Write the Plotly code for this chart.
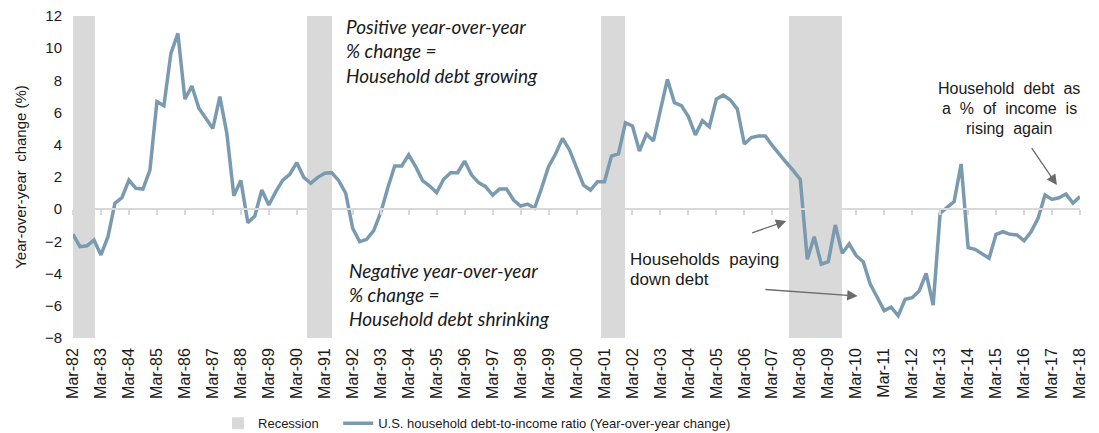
import plotly.graph_objects as go

# Quarterly observations, Mar-82 through Mar-18 (index 0 = Mar-82)
debt_to_income_yoy = [
    -1.56, -2.33, -2.27, -1.91, -2.84, -1.71, 0.37, 0.72, 1.81, 1.30,
    1.25, 2.43, 6.68, 6.43, 9.68, 10.92, 6.84, 7.65, 6.27, 5.69,
    5.02, 6.99, 4.71, 0.84, 1.79, -0.84, -0.42, 1.19, 0.26, 1.09,
    1.81, 2.17, 2.89, 1.98, 1.61, 1.98, 2.23, 2.27, 1.77, 0.99,
    -1.19, -2.02, -1.87, -1.33, -0.22, 1.30, 2.68, 2.68, 3.37, 2.64,
    1.77, 1.44, 1.03, 1.86, 2.27, 2.27, 2.99, 2.12, 1.65, 1.40,
    0.88, 1.25, 1.25, 0.57, 0.20, 0.32, 0.06, 1.30, 2.64, 3.43,
    4.40, 3.68, 2.54, 1.50, 1.19, 1.71, 1.71, 3.30, 3.43, 5.37,
    5.17, 3.61, 4.67, 4.24, 6.16, 8.07, 6.62, 6.43, 5.75, 4.61,
    5.50, 5.12, 6.83, 7.09, 6.78, 6.22, 4.05, 4.45, 4.55, 4.55,
    3.95, 3.40, 2.90, 2.40, 1.85, -3.11, -1.71, -3.42, -3.26, -0.98,
    -2.74, -2.16, -2.89, -3.26, -4.65, -5.47, -6.30, -6.09, -6.62, -5.60,
    -5.50, -5.08, -3.98, -5.95, -0.26, 0.12, 0.47, 2.81, -2.39, -2.49,
    -2.80, -3.05, -1.56, -1.40, -1.56, -1.60, -1.96, -1.40, -0.57, 0.88,
    0.61, 0.71, 0.94, 0.37, 0.78,
]
quarters = list(range(len(debt_to_income_yoy)))

# Recession periods, in quarters since Mar-82
recession_start = [0.0, 33.5, 75.5, 102.4]
recession_end = [3.1, 37.1, 78.9, 109.9]

tick_labels = [
    "Mar-82", "Mar-83", "Mar-84", "Mar-85", "Mar-86", "Mar-87", "Mar-88",
    "Mar-89", "Mar-90", "Mar-91", "Mar-92", "Mar-93", "Mar-94", "Mar-95",
    "Mar-96", "Mar-97", "Mar-98", "Mar-99", "Mar-00", "Mar-01", "Mar-02",
    "Mar-03", "Mar-04", "Mar-05", "Mar-06", "Mar-07", "Mar-08", "Mar-09",
    "Mar-10", "Mar-11", "Mar-12", "Mar-13", "Mar-14", "Mar-15", "Mar-16",
    "Mar-17", "Mar-18",
]
tick_positions = [4 * i for i in range(len(tick_labels))]

Y_MIN, Y_MAX = -8, 12
LINE_COLOR = "#7A9AAF"
BAND_COLOR = "#D9D9D9"
TEXT_COLOR = "#1a1a1a"
FONT = "Liberation Sans, Arial, sans-serif"
ITALIC_FONT = "Lato, Carlito, Calibri, sans-serif"
NBSP = "&nbsp;"

fig = go.Figure()

fig.add_trace(go.Bar(
    x=[(s + e) / 2 for s, e in zip(recession_start, recession_end)],
    y=[Y_MAX - Y_MIN] * len(recession_start),
    base=[Y_MIN] * len(recession_start),
    width=[e - s for s, e in zip(recession_start, recession_end)],
    marker=dict(color=BAND_COLOR, line=dict(width=0)),
    name="Recession" + NBSP * 4,
    hoverinfo="skip",
))

fig.add_trace(go.Scatter(
    x=quarters,
    y=debt_to_income_yoy,
    mode="lines",
    line=dict(color=LINE_COLOR, width=3.5),
    name="U.S. household debt-to-income ratio (Year-over-year change)",
))

# Invisible trace on the zero-crossing axis so that axis is drawn
fig.add_trace(go.Scatter(
    x=[quarters[0], quarters[-1]], y=[0, 0], xaxis="x2", mode="lines",
    line=dict(width=0), showlegend=False, hoverinfo="skip",
))

fig.update_layout(
    width=1099,
    height=433,
    margin=dict(l=73, r=19, t=16, b=95, autoexpand=False),
    plot_bgcolor="white",
    paper_bgcolor="white",
    font=dict(family=FONT, size=15, color=TEXT_COLOR),
    bargap=0,
    xaxis=dict(
        range=[quarters[0], quarters[-1]],
        tickvals=tick_positions,
        ticktext=tick_labels,
        tickangle=-90,
        showgrid=False,
        zeroline=False,
        showline=False,
        ticks="",
        ticklabelstandoff=6,
        automargin=False,
        tickfont=dict(size=16, color=TEXT_COLOR),
    ),
    xaxis2=dict(
        overlaying="x",
        anchor="free",
        position=(0 - Y_MIN) / (Y_MAX - Y_MIN),
        range=[quarters[0], quarters[-1]],
        tickvals=tick_positions,
        showticklabels=False,
        showgrid=False,
        zeroline=False,
        showline=True,
        linecolor=BAND_COLOR,
        linewidth=2,
        ticks="outside",
        ticklen=5,
        tickcolor=BAND_COLOR,
        tickwidth=1.5,
        automargin=False,
    ),
    yaxis=dict(
        range=[Y_MIN, Y_MAX],
        dtick=2,
        showgrid=False,
        zeroline=False,
        showline=False,
        ticks="",
        ticklabelstandoff=10,
        automargin=False,
        tickfont=dict(size=15, color=TEXT_COLOR),
        title=dict(text="Year-over-year" + NBSP * 2 + "change (%)", standoff=14,
                   font=dict(size=15, color=TEXT_COLOR)),
    ),
    legend=dict(
        orientation="h",
        x=0.144,
        xanchor="left",
        y=-0.265,
        yanchor="middle",
        font=dict(size=13, color=TEXT_COLOR),
        bgcolor="rgba(0,0,0,0)",
        traceorder="normal",
    ),
    showlegend=True,
)

# Italic explanatory notes
positive_lines = ["Positive year-over-year", "% change =", "Household debt growing"]
negative_lines = ["Negative year-over-year", "% change =", "Household debt shrinking"]
for text, yv in zip(positive_lines, [11.32, 9.83, 8.33]):
    fig.add_annotation(x=38.8, y=yv, text=f"<i>{text}</i>", showarrow=False,
                       xanchor="left", yanchor="middle",
                       font=dict(family=ITALIC_FONT, size=19, color=TEXT_COLOR))
for text, yv in zip(negative_lines, [-3.78, -5.31, -6.77]):
    fig.add_annotation(x=39.2, y=yv, text=f"<i>{text}</i>", showarrow=False,
                       xanchor="left", yanchor="middle",
                       font=dict(family=ITALIC_FONT, size=19, color=TEXT_COLOR))

# Callouts
for text, yv in zip(["Households" + NBSP * 2 + "paying", "down debt"],
                    [-3.11, -4.36]):
    fig.add_annotation(x=79.4, y=yv, text=text, showarrow=False,
                       xanchor="left", yanchor="middle",
                       font=dict(size=17, color=TEXT_COLOR))
for text, yv in zip(["Household" + NBSP * 2 + "debt" + NBSP * 2 + "as",
                     "a" + NBSP * 2 + "%" + NBSP * 2 + "of" + NBSP * 2 + "income"
                     + NBSP * 2 + "is",
                     "rising" + NBSP * 2 + "again"],
                    [7.51, 6.27, 5.02]):
    fig.add_annotation(x=133.9, y=yv, text=text, showarrow=False,
                       xanchor="center", yanchor="middle",
                       font=dict(size=16, color=TEXT_COLOR))

# Arrows: (head_x, head_y, tail_x, tail_y) in data units
arrows = [
    (102.0, -0.73, 96.9, -1.50),
    (112.2, -5.39, 98.8, -4.98),
    (140.7, 1.50, 136.95, 3.88),
]
for hx, hy, tx, ty in arrows:
    fig.add_annotation(x=hx, y=hy, ax=tx, ay=ty, axref="x", ayref="y",
                       xref="x", yref="y", text="", showarrow=True,
                       arrowhead=2, arrowsize=1.6, arrowwidth=1.3,
                       arrowcolor="#6b6b6b", standoff=0)

fig.write_html("out.html")
